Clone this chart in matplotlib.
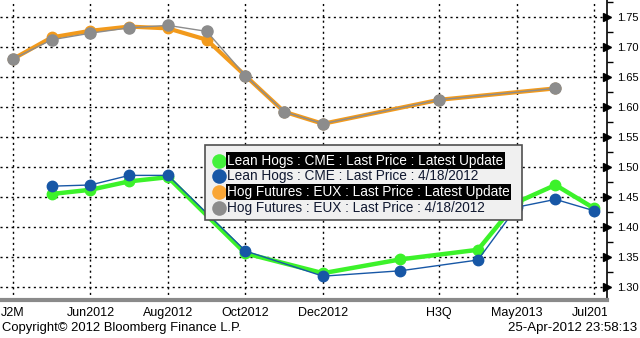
import matplotlib
matplotlib.use("Agg")
import matplotlib.pyplot as plt
from matplotlib.patches import Rectangle
from matplotlib.lines import Line2D
from matplotlib.transforms import Bbox, TransformedBbox

plt.rcParams['font.family'] = ['Liberation Sans', 'DejaVu Sans']

# months counted from Apr 2012
tick_months = [0, 2, 4, 6, 8, 11, 13, 15]
tick_labels = ['J2M', 'Jun2012', 'Aug2012', 'Oct2012', 'Dec2012', 'H3Q', 'May2013', 'Jul2013']

# Lean Hogs : CME
cme_months = [1, 2, 3, 4, 6, 8, 10, 12, 13, 14, 15]
cme_latest = [1.455, 1.462, 1.476, 1.483, 1.356, 1.323, 1.346, 1.362, 1.441, 1.470, 1.431]
cme_0418 = [1.468, 1.470, 1.486, 1.486, 1.360, 1.318, 1.327, 1.345, 1.433, 1.446, 1.427]

# Hog Futures : EUX
eux_months = [0, 1, 2, 3, 4, 5, 6, 7, 8, 11, 14]
eux_latest = [1.680, 1.716, 1.727, 1.734, 1.731, 1.712, 1.652, 1.592, 1.572, 1.612, 1.631]
eux_0418 = [1.680, 1.712, 1.723, 1.732, 1.736, 1.726, 1.652, 1.592, 1.572, 1.612, 1.631]

legend_labels = ['Lean Hogs : CME : Last Price : Latest Update',
                 'Lean Hogs : CME : Last Price : 4/18/2012',
                 'Hog Futures : EUX : Last Price : Latest Update',
                 'Hog Futures : EUX : Last Price : 4/18/2012']
legend_colors = ['#44f23c', '#1757a6', '#f9a636', '#8c8c8c']

W, H = 640, 338
fig = plt.figure(figsize=(W / 100, H / 100), dpi=100)
ax = fig.add_axes([0, 38 / H, 607 / W, 1 - 38 / H])

ax.plot(cme_months, cme_latest, color='#3cf22a', lw=3.2, marker='o', ms=7.5, zorder=3)
ax.plot(cme_months, cme_0418, color='#1757a6', lw=1.0, marker='o', ms=7.5, zorder=4)
ax.plot(eux_months, eux_latest, color='#f29a1c', lw=3.0, marker='o', ms=7.5, zorder=3)
ax.plot(eux_months, eux_0418, color='#8c8c8c', lw=1.0, marker='o', ms=8, zorder=4)

ax.set_xlim(-0.335, 15.33)
ax.set_ylim(1.2783, 1.7783)

# y axis on the right with arrow ticks
ax.yaxis.tick_right()
yticks = [1.30, 1.35, 1.40, 1.45, 1.50, 1.55, 1.60, 1.65, 1.70, 1.75]
ax.set_yticks(yticks)
ax.set_yticklabels(['%.2f' % v for v in yticks], fontsize=8)
ax.set_yticks([v + 0.025 for v in yticks], minor=True)
ax.tick_params(axis='y', which='major', length=0, pad=7)
ax.tick_params(axis='y', which='minor', length=4, width=1, direction='out')
for v in yticks:
    ax.plot([1.0], [v], marker='>', ms=6, color='black', transform=ax.get_yaxis_transform(),
            clip_on=False, zorder=6)

ax.set_xticks(tick_months)
ax.set_xticklabels(tick_labels, fontsize=9)
ax.tick_params(axis='x', length=0, pad=5)
clip = TransformedBbox(Bbox([[0, -1], [1, 1]]), ax.transAxes)
for lbl in ax.get_xticklabels():
    lbl.set_clip_box(clip)
    lbl.set_clip_on(True)

ax.grid(True, color='black', linestyle=(0, (1.5, 2.5)), lw=1)
for s in ['top', 'left']:
    ax.spines[s].set_visible(False)
ax.spines['right'].set_color('black')
ax.spines['right'].set_linewidth(1.2)
ax.spines['bottom'].set_color('#8a8a8a')
ax.spines['bottom'].set_linewidth(3)

# legend box drawn in pixel units
px = fig.transFigure
def fx(x):
    return x / W
def fy(y):
    return 1 - y / H

fig.patches.append(Rectangle((fx(205), fy(220)), (522 - 205) / W, (220 - 145) / H,
                             transform=px, facecolor='#f0f0f0', edgecolor='#505050',
                             lw=1.2, zorder=10))
row_y = [160.5, 176, 192, 208]
for i, (lab, col) in enumerate(zip(legend_labels, legend_colors)):
    fig.add_artist(Line2D([fx(219)], [fy(row_y[i])], marker='o', ms=10.5, color=col,
                          mec='none', transform=px, zorder=11))
    if i in (0, 2):
        fig.text(fx(227), fy(row_y[i]), lab, fontsize=9.8, color='white', va='center',
                 ha='left', zorder=12,
                 bbox=dict(boxstyle='square,pad=0.1', facecolor='black', edgecolor='none'))
    else:
        fig.text(fx(227), fy(row_y[i]), lab, fontsize=9.8, color='#101830', va='center',
                 ha='left', zorder=12)

fig.text(fx(2), fy(328), 'Copyright\u00a9 2012 Bloomberg Finance L.P.', fontsize=9.4,
         va='center', ha='left')
fig.text(fx(637), fy(328), '25-Apr-2012 23:58:13', fontsize=9.5, va='center', ha='right')

fig.savefig('out.png', dpi=100, facecolor='white')
